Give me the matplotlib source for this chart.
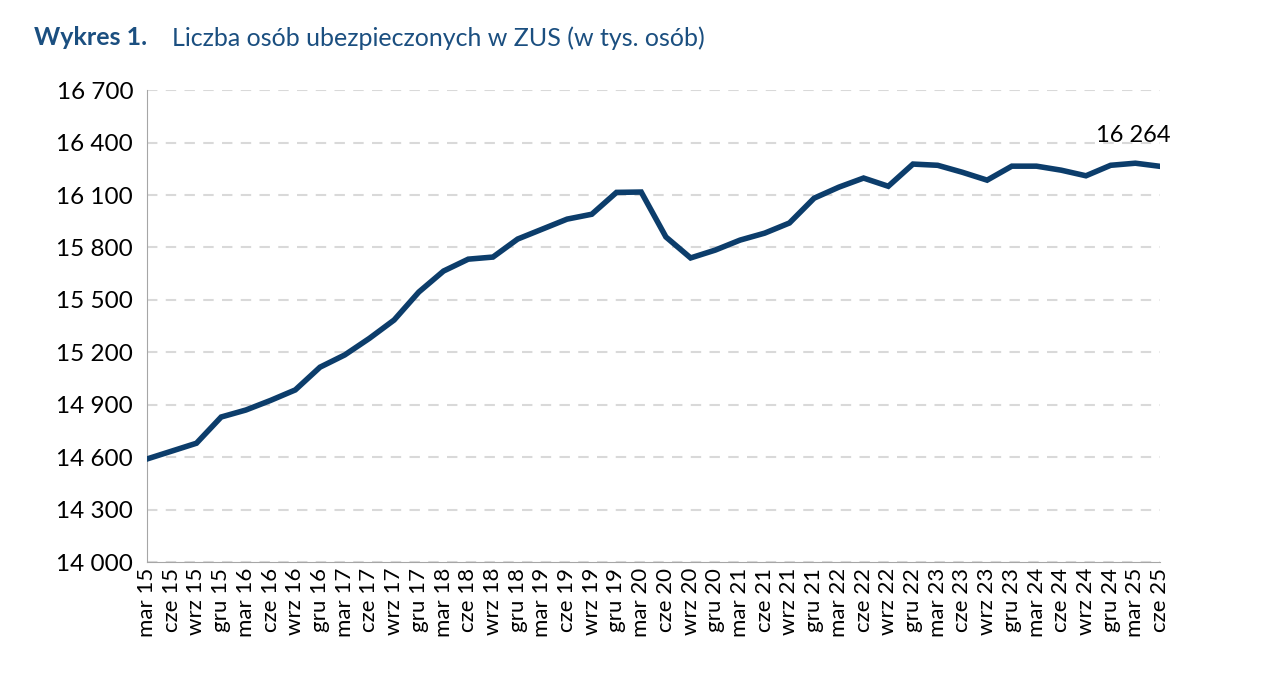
import matplotlib.pyplot as plt

MONTHS = ["mar", "cze", "wrz", "gru"]
PERIODS = [f"{MONTHS[i % 4]} {15 + i // 4}" for i in range(42)]

INSURED = [14590, 14635, 14680, 14830, 14870, 14925, 14985, 15115, 15185, 15280,
           15385, 15545, 15665, 15733, 15745, 15848, 15905, 15962, 15990, 16115,
           16117, 15860, 15740, 15785, 15842, 15882, 15940, 16082, 16145, 16197,
           16150, 16277, 16270, 16230, 16185, 16265, 16265, 16242, 16210, 16270,
           16282, 16264]
YTICKS = list(range(14000, 16701, 300))

LINE = "#0c3d6b"
TITLE = "#1b4f80"
GRID = "#d9d9d9"

plt.rcParams["font.family"] = "Lato"

fig = plt.figure(figsize=(12.72, 6.88), dpi=100)
ax = fig.add_axes([0.1156, 0.183, 0.7964, 0.686])

x = list(range(len(INSURED)))
ax.plot(x, INSURED, color=LINE, linewidth=4, solid_joinstyle="miter", zorder=3)
ax.text(x[-1] - 1.1, INSURED[-1] + 115, f"{INSURED[-1]:,}".replace(",", " "),
        fontsize=17, ha="center", va="bottom", color="black")

ax.set_xlim(0, len(INSURED) - 1)
ax.set_ylim(14000, 16700)
ax.set_yticks(YTICKS)
ax.set_yticklabels([f"{v:,}".replace(",", " ") for v in YTICKS], fontsize=17.5)
ax.set_xticks(x)
ax.set_xticklabels(PERIODS, rotation=90, fontsize=16)
ax.tick_params(axis="y", length=0, pad=10)
ax.tick_params(axis="x", length=0, pad=4)
ax.grid(axis="y", color=GRID, linewidth=1.5, linestyle=(0, (5, 4)), zorder=0)
for spine in ("top", "right"):
    ax.spines[spine].set_visible(False)
ax.spines["left"].set_color("#a6a6a6")
ax.spines["bottom"].set_color("#a6a6a6")

fig.text(0.027, 0.945, "Wykres 1.", fontsize=18, fontweight="bold", color=TITLE, va="center")
fig.text(0.135, 0.945, "Liczba osób ubezpieczonych w ZUS (w tys. osób)", fontsize=18, color=TITLE, va="center")

fig.savefig("out.png", dpi=100, facecolor="white")
